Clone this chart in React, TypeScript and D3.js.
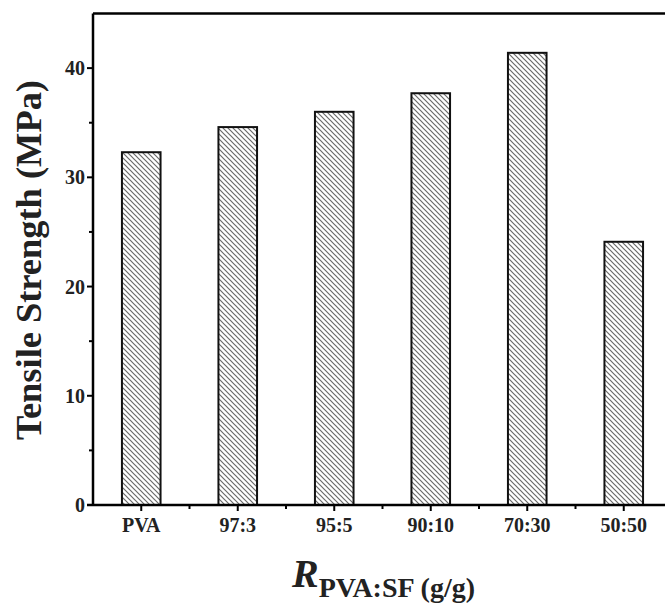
import React from 'react'
import * as d3 from 'd3'

// data
const categories = ['PVA', '97:3', '95:5', '90:10', '70:30', '50:50']
const strength = [32.3, 34.6, 36.0, 37.7, 41.4, 24.1]
const yTicks = [0, 10, 20, 30, 40]
const yMinorTicks = [5, 15, 25, 35]

export default function App() {
  const width = 665
  const height = 604
  const left = 93
  const right = 672
  const top = 13.5
  const bottom = 505

  const x = d3
    .scaleBand<string>()
    .domain(categories)
    .range([left, right])
    .paddingInner(0.6)
    .paddingOuter(0.3)

  const y = d3.scaleLinear().domain([0, 45]).range([bottom, top])

  const step = x.step()
  const centers = categories.map(c => (x(c) as number) + x.bandwidth() / 2)
  const xMinor = centers.slice(0, -1).map(c => c + step / 2)

  const font = 'Liberation Serif'

  return (
    <svg width={width} height={height} style={{ position: 'absolute', left: 0, top: 0, background: '#fff' }}>
      <defs>
        <pattern id="hatch" width={5} height={5} patternUnits="userSpaceOnUse">
          <path d="M-1,-1 L6,6 M-1,4 L1,6 M4,-1 L6,1" stroke="#6a6a6a" strokeWidth={1.2} />
        </pattern>
      </defs>

      {/* bars */}
      {categories.map((c, i) => (
        <rect
          key={c}
          x={x(c)}
          y={y(strength[i])}
          width={x.bandwidth()}
          height={y(0) - y(strength[i])}
          fill="url(#hatch)"
          stroke="#111"
          strokeWidth={2}
        />
      ))}

      {/* frame */}
      <line x1={left} x2={right} y1={top} y2={top} stroke="#000" strokeWidth={2.5} />
      <line x1={left} x2={left} y1={top} y2={bottom} stroke="#000" strokeWidth={2.5} />
      <line x1={left - 6} x2={right} y1={bottom} y2={bottom} stroke="#000" strokeWidth={2.5} />

      {/* y axis ticks */}
      {yTicks.map(t => (
        <g key={t}>
          <line x1={left - 6} x2={left} y1={y(t)} y2={y(t)} stroke="#000" strokeWidth={2} />
          <text
            x={left - 8}
            y={y(t)}
            dy="0.35em"
            textAnchor="end"
            fontFamily={font}
            fontWeight="bold"
            fontSize={20}
            fill="#222"
          >
            {t}
          </text>
        </g>
      ))}
      {yMinorTicks.map(t => (
        <line key={t} x1={left - 4} x2={left} y1={y(t)} y2={y(t)} stroke="#000" strokeWidth={2} />
      ))}

      {/* x axis ticks */}
      {categories.map((c, i) => (
        <g key={c}>
          <line x1={centers[i]} x2={centers[i]} y1={bottom} y2={bottom + 6} stroke="#000" strokeWidth={2} />
          <text
            x={centers[i]}
            y={532}
            textAnchor="middle"
            fontFamily={font}
            fontWeight="bold"
            fontSize={20}
            fill="#222"
          >
            {c}
          </text>
        </g>
      ))}
      {xMinor.map((m, i) => (
        <line key={i} x1={m} x2={m} y1={bottom} y2={bottom + 4} stroke="#000" strokeWidth={2} />
      ))}

      {/* y title */}
      <text
        transform={`translate(41, 260) rotate(-90)`}
        textAnchor="middle"
        fontFamily={font}
        fontWeight="bold"
        fontSize={36}
        textLength={360}
        lengthAdjust="spacingAndGlyphs"
        fill="#222"
      >
        Tensile Strength (MPa)
      </text>

      {/* x title */}
      <text x={292} y={587} fontFamily={font} fontWeight="bold" fill="#222">
        <tspan fontStyle="italic" fontSize={40}>R</tspan>
        <tspan fontSize={28} dy={10}>PVA:SF (g/g)</tspan>
      </text>
    </svg>
  )
}
